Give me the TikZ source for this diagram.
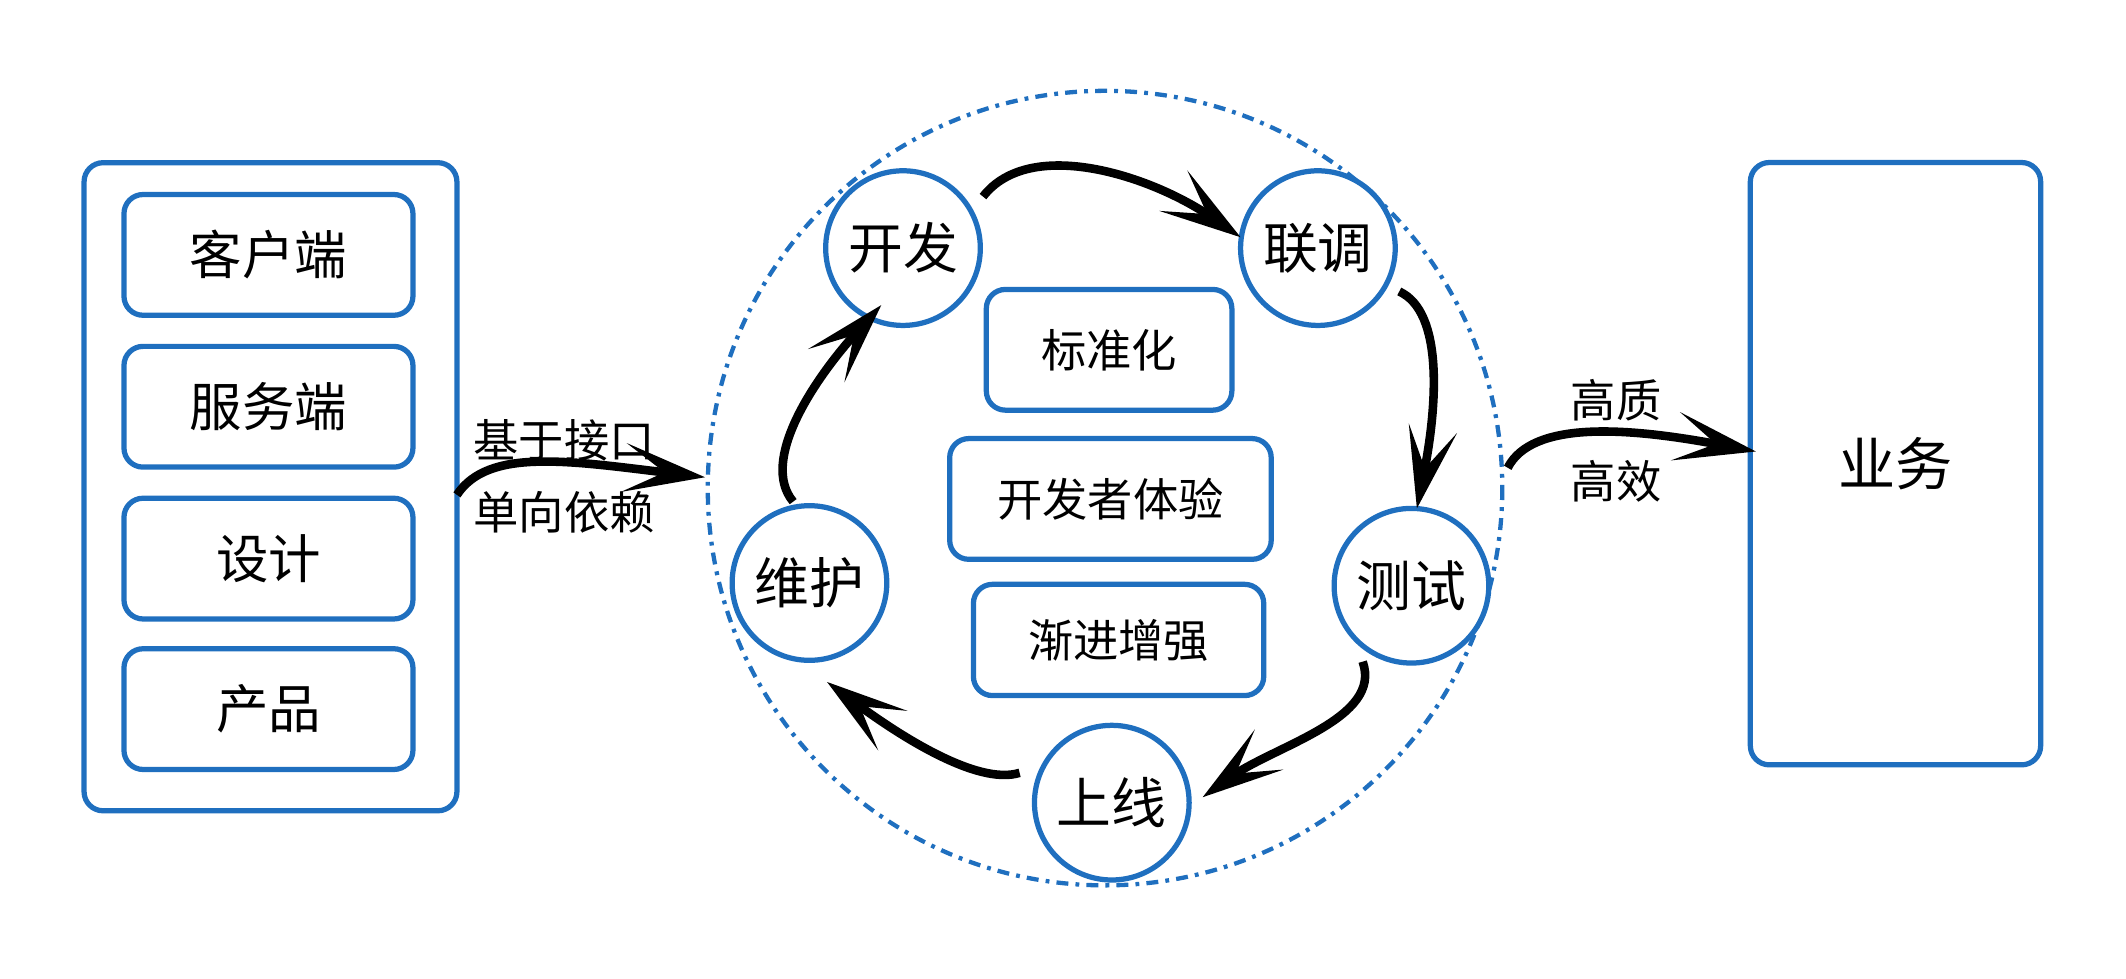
\documentclass[tikz,border=0pt]{standalone}
\usepackage{fontspec}
\newfontfamily\cjk{Noto Sans CJK SC}
\usetikzlibrary{arrows.meta}
\definecolor{bl}{HTML}{1F6FBF}
\begin{document}
\begin{tikzpicture}[x=0.01cm,y=-0.01cm,
  box/.style={draw=bl,line width=1.1pt,rounded corners=4pt,font=\cjk\fontsize{11}{13}\selectfont},
  sbox/.style={draw=bl,line width=1.1pt,rounded corners=4pt,font=\cjk\fontsize{9.5}{11}\selectfont},
  stage/.style={draw=bl,line width=1.1pt,circle,fill=white,minimum size=1.14cm,inner sep=0pt,font=\cjk\fontsize{11.5}{13}\selectfont},
  lbl/.style={font=\cjk\fontsize{9.5}{11}\selectfont},
  arr/.style={line width=1.8pt,-{Stealth[length=6mm,width=3.6mm,inset=3mm]}}]
\useasboundingbox (0,0) rectangle (1568,722);
\draw[box] (62,120) rectangle (337,598);
\node[box,minimum width=2.13cm,minimum height=0.89cm] (a) at (198,188) {客户端};
\node[box,minimum width=2.13cm,minimum height=0.89cm] (b) at (198,300) {服务端};
\node[box,minimum width=2.13cm,minimum height=0.89cm] (c) at (198,412) {设计};
\node[box,minimum width=2.13cm,minimum height=0.89cm] (d) at (198,523) {产品};
\draw[bl,line width=0.9pt,dash pattern=on 2.5pt off 1.5pt on 0.8pt off 1.5pt] (815,360) circle (293);
\node[sbox,minimum width=1.81cm,minimum height=0.89cm] (s1) at (818,258) {标准化};
\node[sbox,minimum width=2.37cm,minimum height=0.89cm] (s2) at (819,368) {开发者体验};
\node[sbox,minimum width=2.14cm,minimum height=0.82cm] (s3) at (825,472) {渐进增强};
\node[stage] (kf) at (666,183) {开发};
\node[stage] (lt) at (972,183) {联调};
\node[stage] (cs) at (1041,432) {测试};
\node[stage] (sx) at (820,592) {上线};
\node[stage] (wh) at (597,430) {维护};
\node[box,minimum width=2.14cm,minimum height=4.44cm,font=\cjk\fontsize{12}{14}\selectfont] (yw) at (1398,342) {业务};
\coordinate (p1) at (725,145); \coordinate (p2) at (915,175);
\draw[arr] (p1) .. controls (760,100) and (850,130) .. (p2);
\coordinate (p3) at (1032,215); \coordinate (p4) at (1045,375);
\draw[arr] (p3) .. controls (1065,230) and (1060,300) .. (p4);
\coordinate (p5) at (1005,488); \coordinate (p6) at (887,588);
\draw[arr] (p5) .. controls (1020,530) and (940,550) .. (p6);
\coordinate (p7) at (752,570); \coordinate (p8) at (610,503);
\draw[arr] (p7) .. controls (720,580) and (660,540) .. (p8);
\coordinate (p9) at (585,370); \coordinate (p10) at (650,225);
\draw[arr] (p9) .. controls (560,340) and (600,280) .. (p10);
\coordinate (q1) at (337,365); \coordinate (q2) at (520,352);
\draw[arr] (q1) .. controls (360,330) and (420,340) .. (q2);
\node[lbl] (l1) at (416,325) {基于接口};
\node[lbl] (l2) at (416,378) {单向依赖};
\coordinate (q3) at (1112,345); \coordinate (q4) at (1295,333);
\draw[arr] (q3) .. controls (1130,310) and (1200,315) .. (q4);
\node[lbl] (l3) at (1192,295) {高质};
\node[lbl] (l4) at (1192,355) {高效};
\end{tikzpicture}
\end{document}
